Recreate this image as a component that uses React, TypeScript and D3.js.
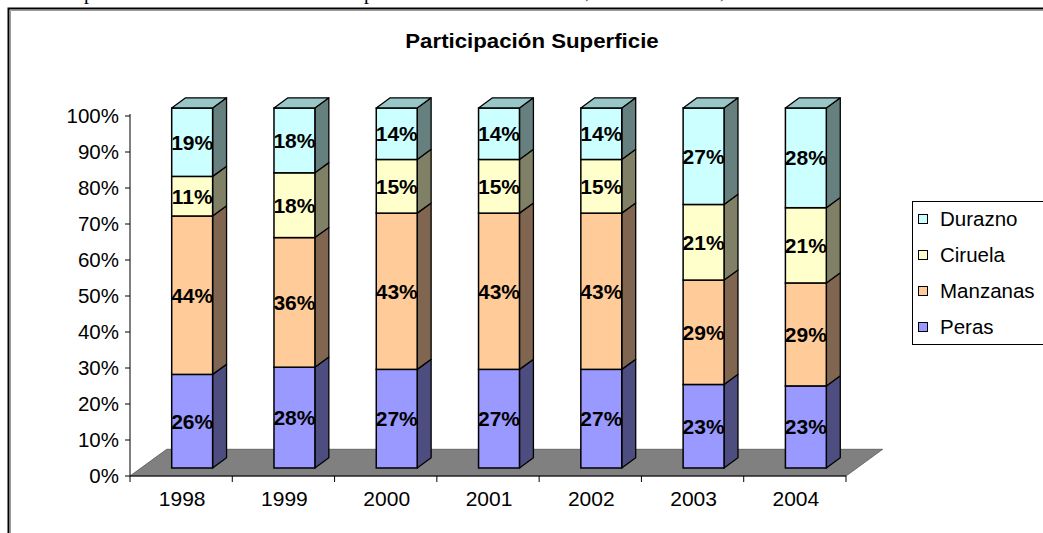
import React from 'react';
import * as d3 from 'd3';

const years = ['1998', '1999', '2000', '2001', '2002', '2003', '2004'];
const peras = [26, 28, 27.4, 27.4, 27.4, 23.2, 22.8];
const manzanas = [44, 36, 43.4, 43.4, 43.4, 29.0, 28.6];
const ciruela = [11, 18, 14.9, 14.9, 14.9, 21.0, 20.9];
const durazno = [19, 18, 14.3, 14.3, 14.3, 26.8, 27.7];
const seriesNames = ['Peras', 'Manzanas', 'Ciruela', 'Durazno'];
const yTickValues = [0, 0.1, 0.2, 0.3, 0.4, 0.5, 0.6, 0.7, 0.8, 0.9, 1];
const title = 'Participación Superficie';

const COLORS: Record<string, { front: string; side: string; top: string }> = {
  Peras: { front: '#9999FF', side: '#4D4D80', top: '#7373BF' },
  Manzanas: { front: '#FFCC99', side: '#806650', top: '#BF9973' },
  Ciruela: { front: '#FFFFCC', side: '#808066', top: '#BFBF99' },
  Durazno: { front: '#CCFFFF', side: '#668080', top: '#99C6C6' },
};

const FONT = '"Liberation Sans", Arial, sans-serif';

function SText(props: {
  x: number; y: number; size: number; anchor?: string; bold?: boolean; sx?: number; children: React.ReactNode;
}) {
  const { x, y, size, anchor = 'start', bold = false, sx = 1, children } = props;
  return (
    <text
      transform={`translate(${x},${y}) scale(${sx},1)`}
      fontFamily={FONT}
      fontSize={size}
      fontWeight={bold ? 'bold' : 'normal'}
      textAnchor={anchor}
      fill="#000"
    >
      {children}
    </text>
  );
}

export default function App() {
  const W = 1043;
  const H = 533;

  const rows = years.map((yr, i) => ({
    year: yr,
    Peras: peras[i],
    Manzanas: manzanas[i],
    Ciruela: ciruela[i],
    Durazno: durazno[i],
  }));
  const stack = d3.stack<any>().keys(seriesNames).offset(d3.stackOffsetExpand);
  const stacked = stack(rows);

  const x = d3.scaleBand<string>().domain(years).range([130, 846]).paddingInner(0).paddingOuter(0);
  const y = d3.scaleLinear().domain([0, 1]).range([476, 116]);

  // depth geometry
  const floorDx = 36.7;
  const floorDy = -26.7;
  const frontF = 0.3;
  const depthF = 0.38;
  const offX = floorDx * frontF;
  const offY = floorDy * frontF;
  const bdx = floorDx * depthF;
  const bdy = floorDy * depthF;
  const bw = x.bandwidth() * 0.4;

  const [x0, x1] = x.range();
  const floorPts = [
    [x0, y(0)],
    [x1, y(0)],
    [x1 + floorDx, y(0) + floorDy],
    [x0 + floorDx, y(0) + floorDy],
  ];

  const bars: React.ReactNode[] = [];
  const labels: React.ReactNode[] = [];
  years.forEach((yr, i) => {
    const bx = (x(yr) as number) + x.bandwidth() / 2 - bw / 2 + offX;
    const total = peras[i] + manzanas[i] + ciruela[i] + durazno[i];
    stacked.forEach((s, si) => {
      const d = s[i];
      const name = s.key;
      const c = COLORS[name];
      const yb = y(d[0]) + offY;
      const yt = y(d[1]) + offY;
      const sidePts = [
        [bx + bw, yt],
        [bx + bw + bdx, yt + bdy],
        [bx + bw + bdx, yb + bdy],
        [bx + bw, yb],
      ];
      bars.push(
        <g key={`${yr}-${name}`}>
          <polygon points={sidePts.map((p) => p.join(',')).join(' ')} fill={c.side} stroke="#000" strokeWidth={1.3} strokeLinejoin="round" />
          <rect x={bx} y={yt} width={bw} height={yb - yt} fill={c.front} stroke="#000" strokeWidth={1.5} />
          {si === stacked.length - 1 && (
            <polygon
              points={[
                [bx, yt],
                [bx + bdx, yt + bdy],
                [bx + bw + bdx, yt + bdy],
                [bx + bw, yt],
              ].map((p) => p.join(',')).join(' ')}
              fill={c.top}
              stroke="#000"
              strokeWidth={1.3}
              strokeLinejoin="round"
            />
          )}
        </g>
      );
      const raw = [peras, manzanas, ciruela, durazno][si][i];
      const pct = Math.round((raw / total) * 100);
      labels.push(
        <SText key={`l-${yr}-${name}`} x={bx + bw / 2} y={(yb + yt) / 2 + 7.5} size={21} bold anchor="middle">
          {`${pct}%`}
        </SText>
      );
    });
  });

  const legendItems = [...seriesNames].reverse();

  return (
    <svg
      width={W}
      height={H}
      viewBox={`0 0 ${W} ${H}`}
      style={{ position: 'absolute', left: 0, top: 0, background: '#fff' }}
    >
      <rect x={0} y={0} width={W} height={H} fill="#fff" />
      {/* clipped document text above the chart (cut off in the reference too) */}
      <g fontFamily='"Liberation Serif", "Times New Roman", serif' fontSize={20} fill="#000">
        <text x={84} y={-1}>p</text>
        <text x={364} y={-1}>p</text>
        <text x={585} y={-2}>,</text>
        <text x={720} y={-2}>,</text>
      </g>
      {/* chart frame */}
      <path d={`M8.5,${H} L8.5,8.5 L${W},8.5`} fill="none" stroke="#000" strokeWidth={2} />
      <path d={`M10.5,${H} L10.5,10.5 L${W},10.5`} fill="none" stroke="#999" strokeWidth={1} />

      <SText x={532} y={48} size={21} bold anchor="middle" sx={1.06}>{title}</SText>

      {/* floor */}
      <polygon points={floorPts.map((p) => p.join(',')).join(' ')} fill="#808080" stroke="#555" strokeWidth={0.8} />

      {/* y axis */}
      <line x1={x0} x2={x0} y1={y(0)} y2={y(1) - 2} stroke="#000" strokeWidth={1} />
      {yTickValues.map((t) => (
        <g key={`yt-${t}`}>
          <line x1={x0 - 5} x2={x0} y1={y(t)} y2={y(t)} stroke="#000" strokeWidth={1} />
          <SText x={x0 - 11} y={y(t) + 7.3} size={20.5} anchor="end">
            {d3.format('.0%')(t)}
          </SText>
        </g>
      ))}

      {/* x axis */}
      <line x1={x0} x2={x1} y1={y(0)} y2={y(0)} stroke="#000" strokeWidth={1.2} />
      {[...years.map((yr) => x(yr) as number), x1].map((v, i) => (
        <line key={`xt-${i}`} x1={v} x2={v} y1={y(0)} y2={y(0) + 6} stroke="#000" strokeWidth={1} />
      ))}
      {years.map((yr) => (
        <SText key={`xl-${yr}`} x={(x(yr) as number) + x.bandwidth() / 2 + 1} y={506} size={21} anchor="middle">
          {yr}
        </SText>
      ))}

      {bars}
      {labels}

      {/* legend */}
      <rect x={912.5} y={201.5} width={150} height={143} fill="#fff" stroke="#000" strokeWidth={1} />
      {legendItems.map((name, i) => {
        const cy = 219 + i * 36;
        return (
          <g key={`lg-${name}`}>
            <rect x={918.5} y={cy - 4.5} width={9} height={9} fill={COLORS[name].front} stroke="#000" strokeWidth={1} />
            <SText x={940} y={cy + 7} size={20.5}>{name}</SText>
          </g>
        );
      })}
    </svg>
  );
}
